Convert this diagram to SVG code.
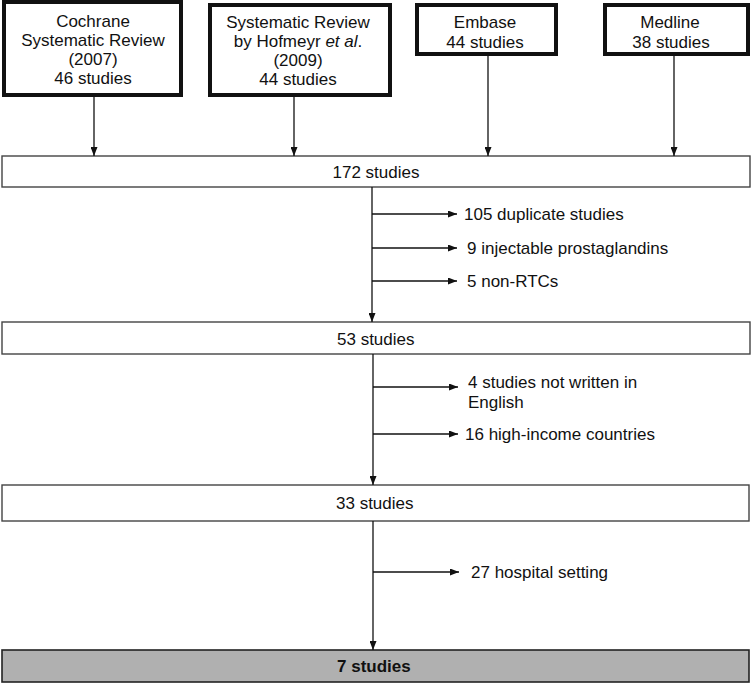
<svg xmlns="http://www.w3.org/2000/svg" width="751" height="684" viewBox="0 0 751 684">
<style>
text{font-family:"Liberation Sans",Arial,sans-serif;font-size:17px;fill:#111}
.src{fill:#fff;stroke:#111;stroke-width:4}
.box{fill:#fff;stroke:#444;stroke-width:1.4}
.fin{fill:#b0b0b0;stroke:#222;stroke-width:1.6}
.c{text-anchor:middle}
.ln{stroke:#111;stroke-width:1.3;fill:none;marker-end:url(#ah)}
</style>
<defs>
<marker id="ah" markerWidth="9" markerHeight="7" refX="9" refY="3.5" orient="auto" markerUnits="userSpaceOnUse">
<path d="M0,0 L9,3.5 L0,7 Z" fill="#111"/>
</marker>
</defs>
<rect width="751" height="684" fill="#fff"/>
<g id="cochrane">
<rect class="src" x="4" y="2" width="177" height="93"/>
<text class="c" x="93" y="27">Cochrane</text>
<text class="c" x="93" y="46">Systematic Review</text>
<text class="c" x="93" y="65">(2007)</text>
<text class="c" x="93" y="84">46 studies</text>
</g>
<g id="hofmeyr">
<rect class="src" x="210" y="5" width="180" height="90"/>
<text class="c" x="298" y="28">Systematic Review</text>
<text class="c" x="298" y="47">by Hofmeyr <tspan font-style="italic">et al</tspan>.</text>
<text class="c" x="298" y="66">(2009)</text>
<text class="c" x="298" y="85">44 studies</text>
</g>
<g id="embase">
<rect class="src" x="417" y="5" width="139" height="49"/>
<text class="c" x="485" y="28">Embase</text>
<text class="c" x="485" y="48">44 studies</text>
</g>
<g id="medline">
<rect class="src" x="605" y="5" width="143" height="49"/>
<text class="c" x="670" y="28">Medline</text>
<text class="c" x="671" y="48">38 studies</text>
</g>
<g id="n172">
<rect class="box" x="2" y="156" width="748" height="31"/>
<text class="c" x="376" y="178">172 studies</text>
</g>
<g id="n53">
<rect class="box" x="2" y="322" width="748" height="32"/>
<text x="337" y="345">53 studies</text>
</g>
<g id="n33">
<rect class="box" x="2" y="485" width="747" height="36"/>
<text x="336" y="509">33 studies</text>
</g>
<g id="n7">
<rect class="fin" x="2" y="650" width="747" height="32"/>
<text x="337" y="672" font-weight="bold">7 studies</text>
</g>
<g id="excl">
<text x="464" y="220">105 duplicate studies</text>
<text x="467" y="254">9 injectable prostaglandins</text>
<text x="467" y="287">5 non-RTCs</text>
<text x="468" y="388">4 studies not written in</text>
<text x="468" y="408">English</text>
<text x="465" y="440">16 high-income countries</text>
<text x="471" y="578">27 hospital setting</text>
</g>
<g id="connectors">
<line class="ln" x1="94" y1="97" x2="94" y2="156"/>
<line class="ln" x1="294" y1="97" x2="294" y2="156"/>
<line class="ln" x1="488" y1="56" x2="488" y2="156"/>
<line class="ln" x1="674" y1="56" x2="674" y2="156"/>
<line class="ln" x1="372" y1="187" x2="372" y2="322"/>
<line class="ln" x1="372" y1="214" x2="457" y2="214"/>
<line class="ln" x1="372" y1="248" x2="457" y2="248"/>
<line class="ln" x1="372" y1="281" x2="457" y2="281"/>
<line class="ln" x1="373" y1="354" x2="373" y2="485"/>
<line class="ln" x1="373" y1="387" x2="458" y2="387"/>
<line class="ln" x1="373" y1="434" x2="458" y2="434"/>
<line class="ln" x1="373" y1="521" x2="373" y2="650"/>
<line class="ln" x1="373" y1="572" x2="459" y2="572"/>
</g>
</svg>
